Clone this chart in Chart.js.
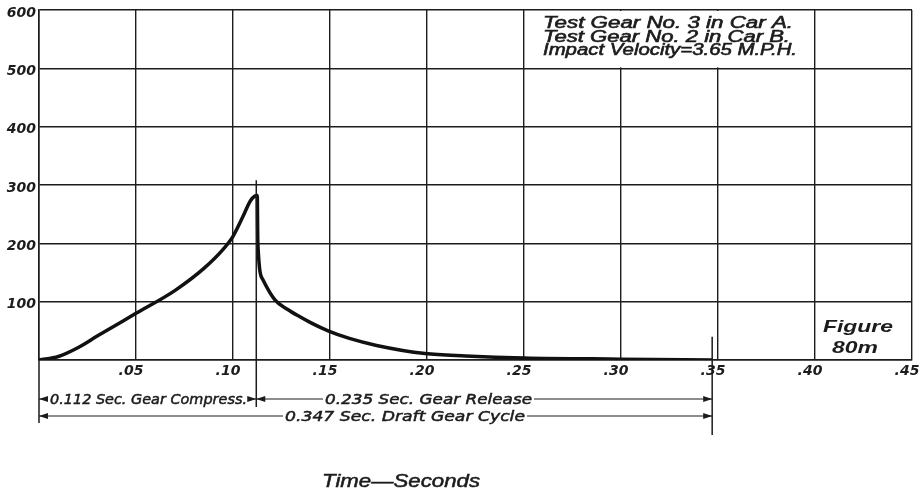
<!DOCTYPE html>
<html>
<head>
<meta charset="utf-8">
<script src="https://cdn.jsdelivr.net/npm/chart.js@4"></script>
<style>
  html, body { margin: 0; padding: 0; background: #fff; }
  #wrap { width: 919px; height: 494px; }
</style>
</head>
<body>
<div id="wrap"><canvas id="gearChart" width="919" height="494"></canvas></div>
<script>
// time in seconds, force
const times = [0, 0.01, 0.02, 0.03, 0.05, 0.07, 0.085, 0.095, 0.1, 0.105, 0.109,
  0.1113, 0.1125, 0.1128, 0.1155, 0.1216, 0.128, 0.1345, 0.14, 0.149, 0.16, 0.174,
  0.199, 0.22, 0.25, 0.30, 0.347];
const force = [0, 6, 21, 41, 80, 119, 157, 190, 212, 245, 273,
  281, 282, 200, 137, 103, 87, 74, 64, 50, 37, 25,
  11, 7, 3.5, 1.5, 0];

const xTickLabels = ['', '.05', '.10', '.15', '.20', '.25', '.30', '.35', '.40', '.45'];
const yTickLabels = ['', '100', '200', '300', '400', '500', '600'];

const noteLines = ['Test Gear No. 3 in Car A.', 'Test Gear No. 2 in Car B.', 'Impact Velocity=3.65 M.P.H.'];
const figureLines = ['Figure', '80m'];
const spanStarts = [0, 0.112, 0];
const spanEnds = [0.112, 0.347, 0.347];
const spanLabels = ['0.112 Sec. Gear Compress.', '0.235 Sec. Gear Release', '0.347 Sec. Draft Gear Cycle'];
const xTitle = 'Time\u2014Seconds';

const INK = '#1c1c1c';
const tickFont = { family: 'DejaVu Sans', size: 14, style: 'italic', weight: 'bold' };

function fitText(ctx, text, x, y, width, heavy) {
    const w = ctx.measureText(text).width;
    ctx.save();
    ctx.translate(x, y);
    ctx.scale(width / w, 1);
    ctx.fillText(text, 0, 0);
    if (heavy) {
        ctx.lineWidth = heavy;
        ctx.strokeText(text, 0, 0);
    }
    ctx.restore();
}

function arrowHead(ctx, x, y, dir) {
    ctx.beginPath();
    ctx.moveTo(x, y);
    ctx.lineTo(x - dir * 9, y - 3);
    ctx.lineTo(x - dir * 9, y + 3);
    ctx.closePath();
    ctx.fill();
}

const notesPlugin = {
    id: 'notes',
    beforeDatasetsDraw(chart) {
        // clear the grid behind the test note
        const { ctx, scales: { x, y } } = chart;
        ctx.save();
        ctx.fillStyle = '#fff';
        const l = x.getPixelForValue(0.25), r = x.getPixelForValue(0.40);
        const t = y.getPixelForValue(600), b = y.getPixelForValue(500);
        ctx.fillRect(l + 1, t + 1, r - l - 2, b - t - 2);
        ctx.restore();
    },
    afterDraw(chart) {
        const { ctx, chartArea, scales: { x, y } } = chart;
        ctx.save();
        ctx.fillStyle = INK;
        ctx.strokeStyle = INK;
        ctx.textBaseline = 'alphabetic';

        // note in the top row
        ctx.font = 'italic 16px "Liberation Sans"';
        fitText(ctx, noteLines[0], 543, 28, 250, 0.6);
        fitText(ctx, noteLines[1], 543, 41.5, 247, 0.6);
        fitText(ctx, noteLines[2], 543, 55, 254, 0.6);

        // figure label
        ctx.font = 'bold italic 17px "Liberation Sans"';
        fitText(ctx, figureLines[0], 823, 332, 70);
        fitText(ctx, figureLines[1], 832, 353, 46);

        // marker lines
        const base = chartArea.bottom;
        ctx.lineWidth = 1.5;
        ctx.beginPath();
        ctx.moveTo(x.getPixelForValue(0.112), y.getPixelForValue(308));
        ctx.lineTo(x.getPixelForValue(0.112), base + 47);
        ctx.moveTo(x.getPixelForValue(0.347), y.getPixelForValue(40));
        ctx.lineTo(x.getPixelForValue(0.347), base + 75);
        ctx.moveTo(chartArea.left, base);
        ctx.lineTo(chartArea.left, base + 63);
        ctx.stroke();

        // span arrows
        const rows = [base + 39, base + 39, base + 56];
        const labelStart = [50, 325, 285];
        const labelWidth = [197, 207, 240];
        ctx.font = 'italic 14px "DejaVu Sans"';
        for (let i = 0; i < spanLabels.length; i++) {
            const xa = x.getPixelForValue(spanStarts[i]);
            const xb = x.getPixelForValue(spanEnds[i]);
            const yy = rows[i];
            const ts = labelStart[i], te = ts + labelWidth[i];
            ctx.lineWidth = 1.2;
            ctx.beginPath();
            ctx.moveTo(xa, yy); ctx.lineTo(ts - 2, yy);
            ctx.moveTo(te + 2, yy); ctx.lineTo(xb, yy);
            ctx.stroke();
            arrowHead(ctx, xa, yy, -1);
            arrowHead(ctx, xb, yy, 1);
            fitText(ctx, spanLabels[i], ts, yy + 5, labelWidth[i], 0.5);
        }

        // axis title
        ctx.font = 'italic 18px "Liberation Sans"';
        fitText(ctx, xTitle, 322, 487, 158, 0.5);
        ctx.restore();
    }
};

const points = times.map((t, i) => ({ x: t, y: force[i] }));

new Chart(document.getElementById('gearChart'), {
    type: 'line',
    data: {
        datasets: [{
            data: points,
            borderColor: '#111',
            borderWidth: 3.5,
            pointRadius: 0,
            cubicInterpolationMode: 'monotone',
            fill: false
        }]
    },
    options: {
        responsive: false,
        animation: false,
        events: [],
        layout: { padding: { top: 10, right: 7, left: 0, bottom: 0 } },
        plugins: { legend: { display: false }, tooltip: { enabled: false } },
        scales: {
            x: {
                type: 'linear',
                min: 0,
                max: 0.45,
                afterFit(scale) { scale.height = 134; scale.paddingLeft = 0; scale.paddingRight = 0; },
                grid: { color: INK, lineWidth: 1.4, drawTicks: false },
                border: { color: INK, width: 1.6 },
                ticks: {
                    stepSize: 0.05,
                    padding: 3,
                    labelOffset: -5,
                    color: INK,
                    maxRotation: 0,
                    font: tickFont,
                    callback: (v, i) => xTickLabels[i]
                }
            },
            y: {
                min: 0,
                max: 600,
                afterFit(scale) { scale.width = 39; scale.paddingTop = 0; scale.paddingBottom = 0; },
                grid: { color: INK, lineWidth: 1.4, drawTicks: false },
                border: { color: INK, width: 1.6 },
                ticks: {
                    stepSize: 100,
                    padding: 3,
                    labelOffset: 3,
                    color: INK,
                    font: tickFont,
                    callback: (v, i) => yTickLabels[i]
                }
            }
        }
    },
    plugins: [notesPlugin]
});
</script>
</body>
</html>
